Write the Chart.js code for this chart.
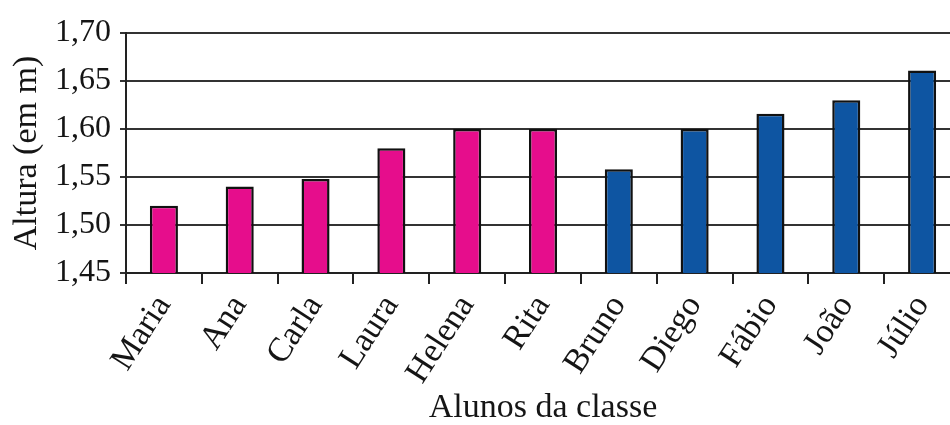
<!DOCTYPE html>
<html>
<head>
<meta charset="utf-8">
<script src="https://cdn.jsdelivr.net/npm/chart.js@4/dist/chart.umd.min.js"></script>
<style>
  html, body { margin: 0; padding: 0; background: #fff; overflow: hidden; }
  #wrap { position: relative; width: 962px; height: 425px; }
</style>
</head>
<body>
<div id="wrap"><canvas id="c"></canvas></div>
<script>
// Alturas dos alunos da classe (em metros)
const alunos = ['Maria', 'Ana', 'Carla', 'Laura', 'Helena', 'Rita', 'Bruno', 'Diego', 'Fábio', 'João', 'Júlio'];
const alturas = [1.52, 1.54, 1.548, 1.58, 1.60, 1.60, 1.558, 1.60, 1.616, 1.63, 1.661];
const grupos = ['f', 'f', 'f', 'f', 'f', 'f', 'm', 'm', 'm', 'm', 'm'];
const marcasY = [1.45, 1.50, 1.55, 1.60, 1.65, 1.70];

const corGrupo = { f: '#E60D8C', m: '#0E55A2' };
const serif = '"Liberation Serif", "DejaVu Serif", serif';
const tinta = '#151515';
const fmt = v => v.toFixed(2).replace('.', ',');

new Chart(document.getElementById('c'), {
  type: 'bar',
  data: {
    labels: alunos,
    datasets: [{
      data: alturas,
      backgroundColor: grupos.map(g => corGrupo[g]),
      borderColor: '#111',
      borderWidth: 2.5,
      borderSkipped: false,
      categoryPercentage: 1,
      barPercentage: 0.37
    }]
  },
  options: {
    responsive: true,
    maintainAspectRatio: false,
    animation: false,
    layout: { padding: { top: 33, right: 2, left: 0, bottom: 0 } },
    plugins: { legend: { display: false }, tooltip: { enabled: false } },
    scales: {
      x: {
        offset: true,
        border: { display: true, color: '#222', width: 2 },
        grid: { display: true, drawOnChartArea: false, drawTicks: true, tickLength: 11, color: '#222', lineWidth: 2, offset: true },
        ticks: {
          color: tinta,
          font: { family: serif, size: 34 },
          minRotation: 57, maxRotation: 57,
          padding: 4
        },
        title: {
          display: true,
          text: 'Alunos da classe',
          color: tinta,
          font: { family: serif, size: 34, lineHeight: 1.0 },
          padding: { top: 0, bottom: 0 }
        },
        afterFit: s => { s.height = 152; }
      },
      y: {
        min: 1.45,
        max: 1.70,
        afterBuildTicks: s => { s.ticks = marcasY.map(v => ({ value: v })); },
        border: { display: true, color: '#222', width: 2 },
        grid: { color: '#333', lineWidth: 2, drawTicks: true, tickLength: 6 },
        ticks: {
          color: tinta,
          font: { family: serif, size: 32 },
          padding: 9,
          callback: v => fmt(v)
        },
        title: {
          display: true,
          text: 'Altura (em m)',
          color: tinta,
          font: { family: serif, size: 34, lineHeight: 1.0 },
          padding: { top: 10, bottom: 0 }
        },
        afterFit: s => { s.width = 126; }
      }
    }
  }
});
</script>
</body>
</html>
